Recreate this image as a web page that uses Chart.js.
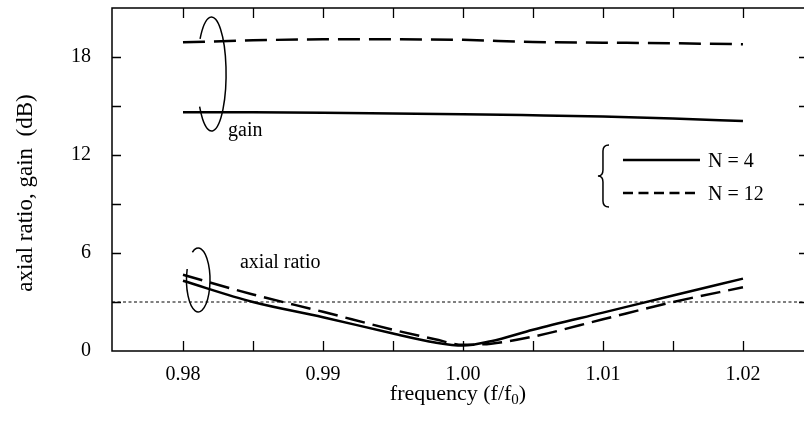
<!DOCTYPE html>
<html>
<head>
<meta charset="utf-8">
<script src="https://cdn.jsdelivr.net/npm/chart.js@4/dist/chart.umd.min.js"></script>
<style>
  html, body { margin: 0; padding: 0; background: #fff; }
  #wrap { width: 804px; height: 423px; }
</style>
</head>
<body>
<div id="wrap"><canvas id="c" width="804" height="423"></canvas></div>
<script>
// ---- data ----
const freqGain = [0.980, 0.985, 0.990, 0.995, 1.000, 1.005, 1.010, 1.015, 1.020];
const gainN4   = [14.62, 14.61, 14.58, 14.54, 14.50, 14.43, 14.35, 14.24, 14.08];
const gainN12  = [18.90, 19.02, 19.08, 19.08, 19.05, 18.92, 18.88, 18.84, 18.78];

const freqAR   = [0.980, 0.985, 0.990, 0.995, 0.998, 1.000, 1.002, 1.005, 1.010, 1.015, 1.020];
const axialN4  = [4.30, 3.00, 2.07, 1.07, 0.52, 0.33, 0.60, 1.30, 2.35, 3.40, 4.43];
const axialN12 = [4.67, 3.46, 2.40, 1.30, 0.72, 0.38, 0.45, 0.88, 1.94, 3.00, 3.90];

const xMin = 0.97493, xMax = 1.02436;
const limitFreq = [xMin, xMax];
const limitAR   = [3, 3];

const xTicks = [0.98, 0.99, 1.00, 1.01, 1.02];
const xTickLabels = ['0.98', '0.99', '1.00', '1.01', '1.02'];
const xMinorTicks = [0.985, 0.995, 1.005, 1.015];
const yTicks = [0, 6, 12, 18];
const yTickLabels = ['0', '6', '12', '18'];
const yMinorTicks = [3, 9, 15];

const seriesLabels = ['N = 4', 'N = 12'];

const FONT = 'Liberation Serif';
const pts = (xs, ys) => xs.map((x, i) => ({ x: x, y: ys[i] }));

const deco = {
  id: 'deco',
  afterDraw(chart) {
    const { ctx, chartArea: a, scales } = chart;
    const xs = scales.x, ys = scales.y;
    const X = v => xs.getPixelForValue(v);
    const Y = v => ys.getPixelForValue(v);
    ctx.save();
    ctx.strokeStyle = '#000';
    ctx.fillStyle = '#000';
    ctx.setLineDash([]);
    // frame (left, top, bottom)
    ctx.lineWidth = 1.5;
    ctx.beginPath();
    ctx.moveTo(a.right, a.top); ctx.lineTo(a.left, a.top);
    ctx.lineTo(a.left, a.bottom); ctx.lineTo(a.right, a.bottom);
    ctx.stroke();
    // inward ticks
    ctx.lineWidth = 1.3;
    ctx.beginPath();
    [...xTicks, ...xMinorTicks].forEach(v => {
      const px = Math.round(X(v)) + 0.5;
      ctx.moveTo(px, a.bottom); ctx.lineTo(px, a.bottom - 10);
      ctx.moveTo(px, a.top); ctx.lineTo(px, a.top + 10);
    });
    [...yTicks.filter(v => v > 0), ...yMinorTicks].forEach(v => {
      const py = Math.round(Y(v)) + 0.5;
      ctx.moveTo(a.left, py); ctx.lineTo(a.left + 9, py);
      ctx.moveTo(a.right, py); ctx.lineTo(a.right - 5, py);
    });
    ctx.stroke();

    // ellipse markers
    ctx.lineWidth = 1.5;
    const deg = d => d * Math.PI / 180;
    // gain
    {
      const cx = X(0.98204), cy = Y(16.96);
      const rx = X(0.98204 + 0.00104) - cx, ry = cy - Y(16.96 + 3.49);
      ctx.beginPath();
      ctx.ellipse(cx, cy, rx, ry, 0, deg(218), deg(505));
      ctx.stroke();
    }
    // axial ratio
    {
      const cx = X(0.98109), cy = Y(4.35);
      const rx = X(0.98109 + 0.00084) - cx, ry = cy - Y(4.35 + 1.96);
      ctx.beginPath();
      ctx.ellipse(cx, cy, rx, ry, 0, deg(240), deg(560));
      ctx.stroke();
    }
    // labels
    ctx.font = '20px "' + FONT + '"';
    ctx.textAlign = 'left';
    ctx.textBaseline = 'alphabetic';
    ctx.fillText('gain', X(0.98322), Y(13.15));
    ctx.fillText('axial ratio', X(0.98407), Y(5.09));

    // legend with brace
    const bx0 = X(1.00964), bx1 = X(1.01036);
    const bt = Y(12.61), bb = Y(8.82), bm = (bt + bb) / 2, bxm = (bx0 + bx1) / 2;
    ctx.lineWidth = 1.5;
    ctx.beginPath();
    ctx.moveTo(bx1 + 1, bt);
    ctx.quadraticCurveTo(bxm, bt, bxm, bt + 6);
    ctx.lineTo(bxm, bm - 6);
    ctx.quadraticCurveTo(bxm, bm, bx0, bm);
    ctx.quadraticCurveTo(bxm, bm, bxm, bm + 6);
    ctx.lineTo(bxm, bb - 6);
    ctx.quadraticCurveTo(bxm, bb, bx1 + 1, bb);
    ctx.stroke();
    const lx0 = X(1.01143), lx1 = X(1.01693), tx = X(1.0175);
    const ly1 = Y(11.7), ly2 = Y(9.67);
    ctx.lineWidth = 2.5;
    ctx.beginPath(); ctx.moveTo(lx0, ly1); ctx.lineTo(lx1, ly1); ctx.stroke();
    ctx.setLineDash([10, 5.5]);
    ctx.beginPath(); ctx.moveTo(lx0, ly2); ctx.lineTo(lx1, ly2); ctx.stroke();
    ctx.setLineDash([]);
    ctx.font = '20px "' + FONT + '"';
    ctx.fillText(seriesLabels[0], tx, ly1 + 6.7);
    ctx.fillText(seriesLabels[1], tx, ly2 + 6.7);

    // axis titles
    ctx.font = '22px "' + FONT + '"';
    const t1 = 'frequency (f/f', t2 = '0', t3 = ')';
    const w1 = ctx.measureText(t1).width, w3 = ctx.measureText(t3).width;
    ctx.font = '15px "' + FONT + '"';
    const w2 = ctx.measureText(t2).width;
    const total = w1 + w2 + w3;
    let sx = (a.left + a.right) / 2 - total / 2;
    const by = 400;
    ctx.font = '22px "' + FONT + '"';
    ctx.fillText(t1, sx, by);
    ctx.font = '15px "' + FONT + '"';
    ctx.fillText(t2, sx + w1, by + 4);
    ctx.font = '22px "' + FONT + '"';
    ctx.fillText(t3, sx + w1 + w2, by);

    ctx.font = '23px "' + FONT + '"';
    ctx.translate(32, 193);
    ctx.rotate(-Math.PI / 2);
    ctx.textAlign = 'center';
    ctx.fillText('axial ratio, gain  (dB)', 0, 0);
    ctx.restore();
  }
};

new Chart(document.getElementById('c'), {
  type: 'line',
  data: {
    datasets: [
      { data: pts(freqGain, gainN4), borderColor: '#000', borderWidth: 2.5, cubicInterpolationMode: 'monotone' },
      { data: pts(freqGain, gainN12), borderColor: '#000', borderWidth: 2.5, borderDash: [22, 9], cubicInterpolationMode: 'monotone' },
      { data: pts(freqAR, axialN4), borderColor: '#000', borderWidth: 2.5, cubicInterpolationMode: 'monotone' },
      { data: pts(freqAR, axialN12), borderColor: '#000', borderWidth: 2.5, borderDash: [20, 8], cubicInterpolationMode: 'monotone' },
      { data: pts(limitFreq, limitAR), borderColor: '#000', borderWidth: 1, borderDash: [3, 2.5] }
    ]
  },
  options: {
    responsive: false,
    animation: false,
    devicePixelRatio: 1,
    layout: { padding: { top: 8, right: 0, left: 0, bottom: 0 } },
    elements: { point: { radius: 0 }, line: { fill: false, borderCapStyle: 'butt' } },
    plugins: { legend: { display: false }, tooltip: { enabled: false } },
    scales: {
      x: {
        type: 'linear', min: xMin, max: xMax,
        grid: { display: false, drawTicks: false },
        border: { display: false },
        afterBuildTicks: s => { s.ticks = xTicks.map(v => ({ value: v })); },
        afterFit: s => { s.height = 72; s.paddingLeft = 0; s.paddingRight = 0; s.paddingTop = 0; s.paddingBottom = 0; },
        ticks: {
          autoSkip: false, maxRotation: 0, padding: 12, color: '#000',
          font: { family: FONT, size: 20 },
          callback: (v, i) => xTickLabels[i]
        }
      },
      y: {
        type: 'linear', min: 0, max: 21,
        grid: { display: false, drawTicks: false },
        border: { display: false },
        afterBuildTicks: s => { s.ticks = yTicks.map(v => ({ value: v })); },
        afterFit: s => { s.width = 112; s.paddingTop = 0; s.paddingBottom = 0; s.paddingLeft = 0; s.paddingRight = 0; },
        ticks: {
          autoSkip: false, padding: 21, color: '#000',
          font: { family: FONT, size: 20 },
          callback: (v, i) => yTickLabels[i]
        }
      }
    }
  },
  plugins: [deco]
});
</script>
</body>
</html>
